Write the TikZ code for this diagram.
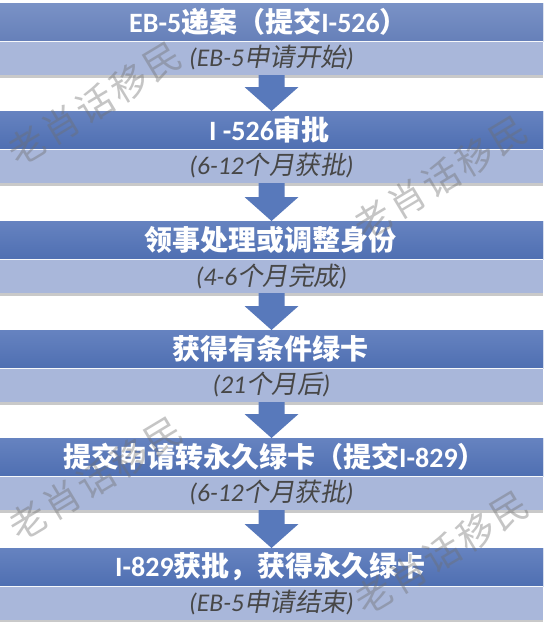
\documentclass[tikz,border=0pt]{standalone}
\usepackage{fontspec}
\setmainfont{Carlito}
\newfontfamily\cjk{Noto Sans CJK SC}
\newfontfamily\cjkit[FakeSlant=0.18]{Noto Sans CJK SC}
\usetikzlibrary{calc,shadows}
\definecolor{dktop}{HTML}{7A92C6}
\definecolor{dkbot}{HTML}{6680B9}
\definecolor{dktopb}{HTML}{6683C0}
\definecolor{dkbotb}{HTML}{4F6FB2}
\definecolor{lt}{HTML}{A9B7DA}
\definecolor{arrc}{HTML}{5879BB}
\definecolor{subc}{HTML}{474747}
\definecolor{wm}{HTML}{6E6E6E}
\tikzset{
  band/.style={minimum width=543pt, anchor=north west, inner sep=0pt, outer sep=0pt},
  tband/.style={band, minimum height=38pt, top color=dktopb, bottom color=dkbotb},
  tbandA/.style={band, minimum height=38pt, top color=dktop, bottom color=dkbot},
  sband/.style={band, minimum height=34pt, fill=lt, drop shadow={shadow xshift=0pt, shadow yshift=-2.5pt, opacity=0.35, fill=black!60}},
  ttext/.style={text=white, font=\fontsize{28}{30}\selectfont\bfseries, inner sep=0pt},
  stext/.style={text=subc, font=\fontsize{25.5}{28}\selectfont\itshape, inner sep=0pt},
  sepline/.style={draw=white!90!lt, line width=1pt},
  flowarrow/.style={fill=arrc},
  wmchar/.style={text=wm, opacity=0.4, rotate=31, font=\fontsize{37}{39}\selectfont\cjk, inner sep=0pt}
}
\newcommand\flowto[2]{%
  \fill[flowarrow] ($(#1.south)+(-13,0)$) -- ($(#1.south)+(13,0)$) -- ($(#2.north)+(13,-24)$)
    -- ($(#2.north)+(27,-24)$) -- (#2.north) -- ($(#2.north)+(-27,-24)$) -- ($(#2.north)+(-13,-24)$) -- cycle;}
% watermark: name, centre x, centre y
\newcommand\wmark[3]{%
  \node[wmchar] (#1a) at (#2-68,#3+42) {老};
  \node[wmchar] (#1b) at (#2-34,#3+21) {肖};
  \node[wmchar] (#1c) at (#2,#3) {话};
  \node[wmchar] (#1d) at (#2+34,#3-21) {移};
  \node[wmchar] (#1e) at (#2+68,#3-42) {民};}
\begin{document}
\begin{tikzpicture}[x=1pt,y=-1pt]
\useasboundingbox[fill=white] (0,0) rectangle (546,622);
% step 1
\node[tbandA] (t1) at (0,3) {};
\node[sband] (s1) at (t1.south west) {};
\node[tbandA] (t1b) at (0,3) {};
\draw[sepline] (t1.south west) -- (t1.south east);
\node[ttext] (tt1) at ([xshift=-3pt]t1.center) {EB-5{\cjk 递案（提交}I-526{\cjk ）}};
\node[stext] (st1) at ([xshift=0pt]s1.center) {(EB-5{\cjkit 申请开始})};
% step 2
\node[tband] (t2) at (0,111) {};
\node[sband] (s2) at (t2.south west) {};
\node[tband] (t2b) at (0,111) {};
\draw[sepline] (t2.south west) -- (t2.south east);
\node[ttext] (tt2) at ([xshift=-2pt]t2.center) {I -526{\cjk 审批}};
\node[stext] (st2) at ([xshift=0pt]s2.center) {(6-12{\cjkit 个月获批})};
% step 3
\node[tband] (t3) at (0,221) {};
\node[sband] (s3) at (t3.south west) {};
\node[tband] (t3b) at (0,221) {};
\draw[sepline] (t3.south west) -- (t3.south east);
\node[ttext] (tt3) at ([xshift=-1pt]t3.center) {\cjk 领事处理或调整身份};
\node[stext] (st3) at ([xshift=0pt]s3.center) {(4-6{\cjkit 个月完成})};
% step 4
\node[tband] (t4) at (0,330) {};
\node[sband] (s4) at (t4.south west) {};
\node[tband] (t4b) at (0,330) {};
\draw[sepline] (t4.south west) -- (t4.south east);
\node[ttext] (tt4) at ([xshift=-1pt]t4.center) {\cjk 获得有条件绿卡};
\node[stext] (st4) at ([xshift=0pt]s4.center) {(21{\cjkit 个月后})};
% step 5
\node[tband] (t5) at (0,438) {};
\node[sband] (s5) at (t5.south west) {};
\node[tband] (t5b) at (0,438) {};
\draw[sepline] (t5.south west) -- (t5.south east);
\node[ttext] (tt5) at ([xshift=3pt]t5.center) {{\cjk 提交申请转永久绿卡（提交}I-829{\cjk ）}};
\node[stext] (st5) at ([xshift=0pt]s5.center) {(6-12{\cjkit 个月获批})};
% step 6
\node[tband] (t6) at (0,548) {};
\node[sband] (s6) at (t6.south west) {};
\node[tband] (t6b) at (0,548) {};
\draw[sepline] (t6.south west) -- (t6.south east);
\node[ttext] (tt6) at ([xshift=-1pt]t6.center) {I-829{\cjk 获批，获得永久绿卡}};
\node[stext] (st6) at ([xshift=0pt]s6.center) {(EB-5{\cjkit 申请结束})};
% arrows
\flowto{s1}{t2}
\flowto{s2}{t3}
\flowto{s3}{t4}
\flowto{s4}{t5}
\flowto{s5}{t6}
% watermarks
\wmark{wA}{95}{104}
\wmark{wB}{441}{178}
\wmark{wC}{96}{479}
\wmark{wD}{442}{553}
\end{tikzpicture}
\end{document}
